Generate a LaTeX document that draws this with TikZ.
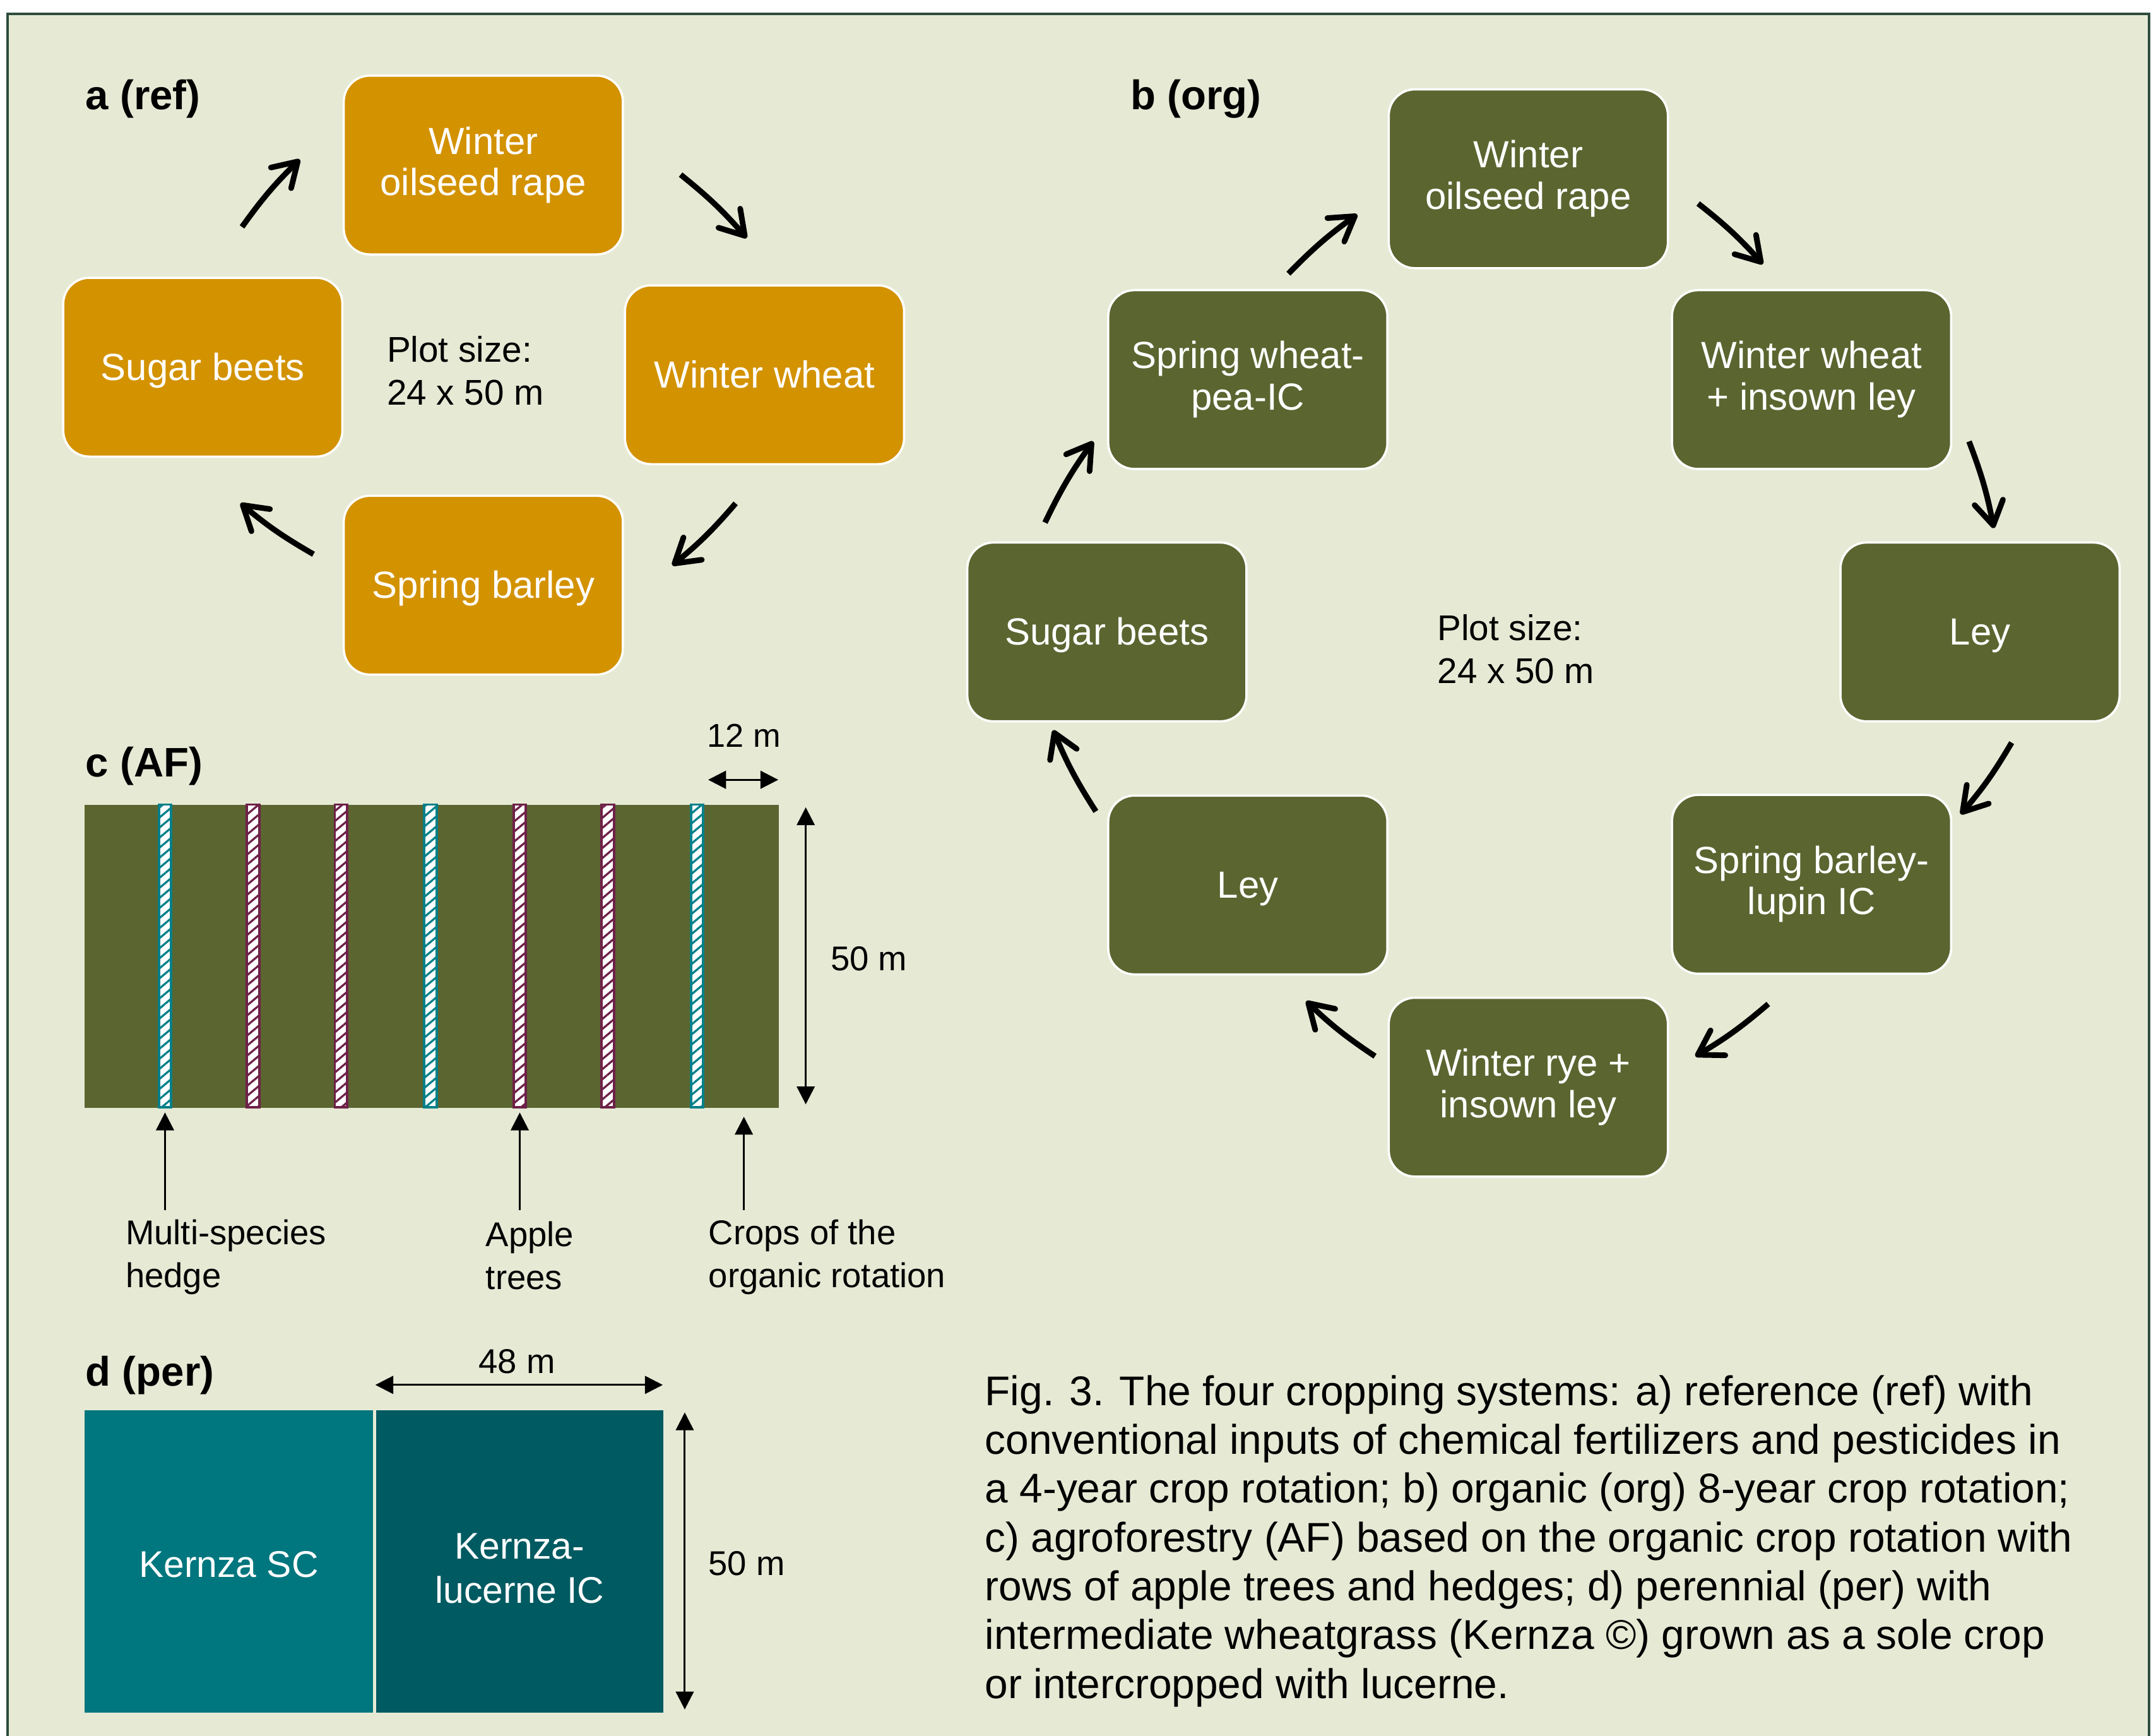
\documentclass[tikz,border=0pt]{standalone}
\usepackage{fontspec}
\setmainfont{Liberation Sans}
\usetikzlibrary{arrows.meta,patterns.meta}

\definecolor{bg}{HTML}{E6EAD5}
\definecolor{framec}{HTML}{2E4D3E}
\definecolor{orng}{HTML}{D39200}
\definecolor{olive}{HTML}{5B6530}
\definecolor{tealA}{HTML}{00767E}
\definecolor{tealB}{HTML}{005A61}
\definecolor{hedgec}{HTML}{00808A}
\definecolor{applec}{HTML}{6E2148}

\begin{document}
\begin{tikzpicture}[x=0.5pt,y=-0.5pt,
 crop/.style={rounded corners=9.5pt, draw=white, line width=0.8pt, minimum width=101.5pt, minimum height=65pt, text=white, align=center, font=\fontsize{13.75}{15}\selectfont, inner sep=0pt,
   execute at begin node={\rule{0pt}{12.44pt}}, execute at end node={\rule[-2.92pt]{0pt}{2.92pt}}},
 cropA/.style={crop, fill=orng},
 cropB/.style={crop, fill=olive},
 cyc/.style={line width=2.05pt, bend left=5, -{Straight Barb[length=8.5pt,width=10.5pt,line cap=round,line join=round]}},
 dim/.style={line width=0.7pt, {Triangle[length=6.5pt,width=6.5pt]}-{Triangle[length=6.5pt,width=6.5pt]}},
 ptr/.style={line width=0.7pt, -{Triangle[length=6.5pt,width=6.5pt]}},
 lbl/.style={font=\fontsize{12.5}{15.5}\selectfont, inner sep=0pt, align=left},
 plot/.style={font=\fontsize{13}{15.5}\selectfont, inner sep=0pt, align=left, anchor=west},
 ttl/.style={font=\bfseries\fontsize{15}{18}\selectfont, inner sep=0pt, anchor=west},
 stripbox/.style={draw=#1, line width=0.9pt, minimum width=4.5pt, minimum height=110pt, inner sep=0pt, fill=white,
   postaction={pattern={Lines[angle=40,distance=2.8pt,line width=0.75pt]}, pattern color=#1}},
 plotbox/.style={inner sep=0pt, minimum width=105pt, minimum height=110pt, anchor=north west, text=white, align=center, font=\fontsize{13.5}{16}\selectfont,
   execute at end node={\rule[-2.86pt]{0pt}{2.86pt}}},
]
\useasboundingbox (0,0) rectangle (1568,1262);
\fill[white] (0,0) rectangle (1568,1262);
\filldraw[fill=bg, draw=framec, line width=0.9pt] (5.5,10) rectangle (1563,1280);

% ---------- panel a ----------
\node[ttl] (aT) at (62,72) {a (ref)};
\node[cropA] (aW) at (351.5,120) {Winter\\oilseed rape};
\node[cropA] (aWW) at (556,272.5) {Winter wheat};
\node[cropA] (aSB) at (351.5,425.5) {Spring barley};
\node[cropA] (aBe) at (147.5,267) {Sugar beets};
\node[plot] (aP) at (281,269.5) {Plot size:\\24 x 50 m};

\coordinate (a1s) at (176,165); \coordinate (a1e) at (218,116);
\coordinate (a2s) at (495,127); \coordinate (a2e) at (543,173);
\coordinate (a3s) at (535,366); \coordinate (a3e) at (489,411);
\coordinate (a4s) at (228,403); \coordinate (a4e) at (175,366);
\draw[cyc] (a1s) to (a1e);
\draw[cyc] (a2s) to (a2e);
\draw[cyc] (a3s) to (a3e);
\draw[cyc] (a4s) to (a4e);

% ---------- panel b ----------
\node[ttl] (bT) at (822,72) {b (org)};
\node[cropB] (bW) at (1111.5,130) {Winter\\oilseed rape};
\node[cropB] (bWW) at (1317.5,276) {Winter wheat\\+ insown ley};
\node[cropB] (bL1) at (1440,459.5) {Ley};
\node[cropB] (bSB) at (1317.5,643) {Spring barley-\\lupin IC};
\node[cropB] (bWR) at (1111.5,790.5) {Winter rye +\\insown ley};
\node[cropB] (bL2) at (907.5,643.5) {Ley};
\node[cropB] (bBe) at (805,459.5) {Sugar beets};
\node[cropB] (bSW) at (907.5,276) {Spring wheat-\\pea-IC};
\node[plot] (bP) at (1045,472) {Plot size:\\24 x 50 m};

\coordinate (b1s) at (937,199);  \coordinate (b1e) at (987,156);
\coordinate (b2s) at (1235,148); \coordinate (b2e) at (1282,192);
\coordinate (b3s) at (1432,321); \coordinate (b3e) at (1450,384);
\coordinate (b4s) at (1463,540); \coordinate (b4e) at (1426,592);
\coordinate (b5s) at (1286,730); \coordinate (b5e) at (1233,768);
\coordinate (b6s) at (1000,768); \coordinate (b6e) at (950,728);
\coordinate (b7s) at (797,590);  \coordinate (b7e) at (766,531);
\coordinate (b8s) at (760,380);  \coordinate (b8e) at (795,321);
\foreach \i in {1,...,8} {\draw[cyc] (b\i s) to (b\i e);}

% ---------- panel c ----------
\node[ttl] (cT) at (62,557) {c (AF)};
\node[fill=olive, inner sep=0pt, minimum width=252.5pt, minimum height=110pt, anchor=north west] (field) at (61,585) {};
\foreach \x/\c/\n in {120/hedgec/s1, 184/applec/s2, 248/applec/s3, 313/hedgec/s4, 378/applec/s5, 442/applec/s6, 507/hedgec/s7}
  {\node[stripbox=\c] (\n) at (\x,695) {};}

\node[lbl, font=\fontsize{12}{15}\selectfont] (c12) at (541,535) {12 m};
\coordinate (c12l) at (515,567); \coordinate (c12r) at (566,567);
\draw[dim] (c12l) -- (c12r);
\coordinate (c50t) at (586,587); \coordinate (c50b) at (586,803);
\draw[dim] (c50t) -- (c50b);
\node[lbl] (c50) at (632,697) {50 m};

\coordinate (p1) at (120,880); \coordinate (p2) at (378,880); \coordinate (p3) at (541,880);
\coordinate (p3e) at (541,812);
\draw[ptr, shorten >=1.5pt] (p1) -- (s1.south);
\draw[ptr, shorten >=1.5pt] (p2) -- (s5.south);
\draw[ptr] (p3) -- (p3e);
\node[lbl, anchor=west] (l1) at (91,914) {Multi-species\\hedge};
\node[lbl, anchor=west] (l2) at (353,913) {Apple\\trees};
\node[lbl, anchor=west] (l3) at (515,914) {Crops of the\\organic rotation};

% ---------- panel d ----------
\node[ttl] (dT) at (62,1000) {d (per)};
\node[plotbox, fill=tealA] (dL) at (61,1025) {\rule{0pt}{14.2pt}Kernza SC};
\node[plotbox, fill=tealB, minimum width=104.5pt] (dR) at (273,1025) {\rule{0pt}{17.2pt}Kernza-\\lucerne IC};
\node[lbl] (d48) at (376,990) {48 m};
\coordinate (d48l) at (273,1007); \coordinate (d48r) at (482,1007);
\draw[dim] (d48l) -- (d48r);
\coordinate (d50t) at (498,1027); \coordinate (d50b) at (498,1243);
\draw[dim] (d50t) -- (d50b);
\node[lbl] (d50) at (543,1137) {50 m};

% ---------- caption ----------
\node[anchor=west, inner sep=0pt, align=left, font=\fontsize{15.1}{17.75}\selectfont] (cap) at (716,1120.5)
 {Fig. 3. The four cropping systems: a) reference (ref) with\\
  conventional inputs of chemical fertilizers and pesticides in\\
  a 4-year crop rotation; b) organic (org) 8-year crop rotation;\\
  c) agroforestry (AF) based on the organic crop rotation with\\
  rows of apple trees and hedges; d) perennial (per) with\\
  intermediate wheatgrass (Kernza \textcopyright) grown as a sole crop\\
  or intercropped with lucerne.};
\end{tikzpicture}
\end{document}
